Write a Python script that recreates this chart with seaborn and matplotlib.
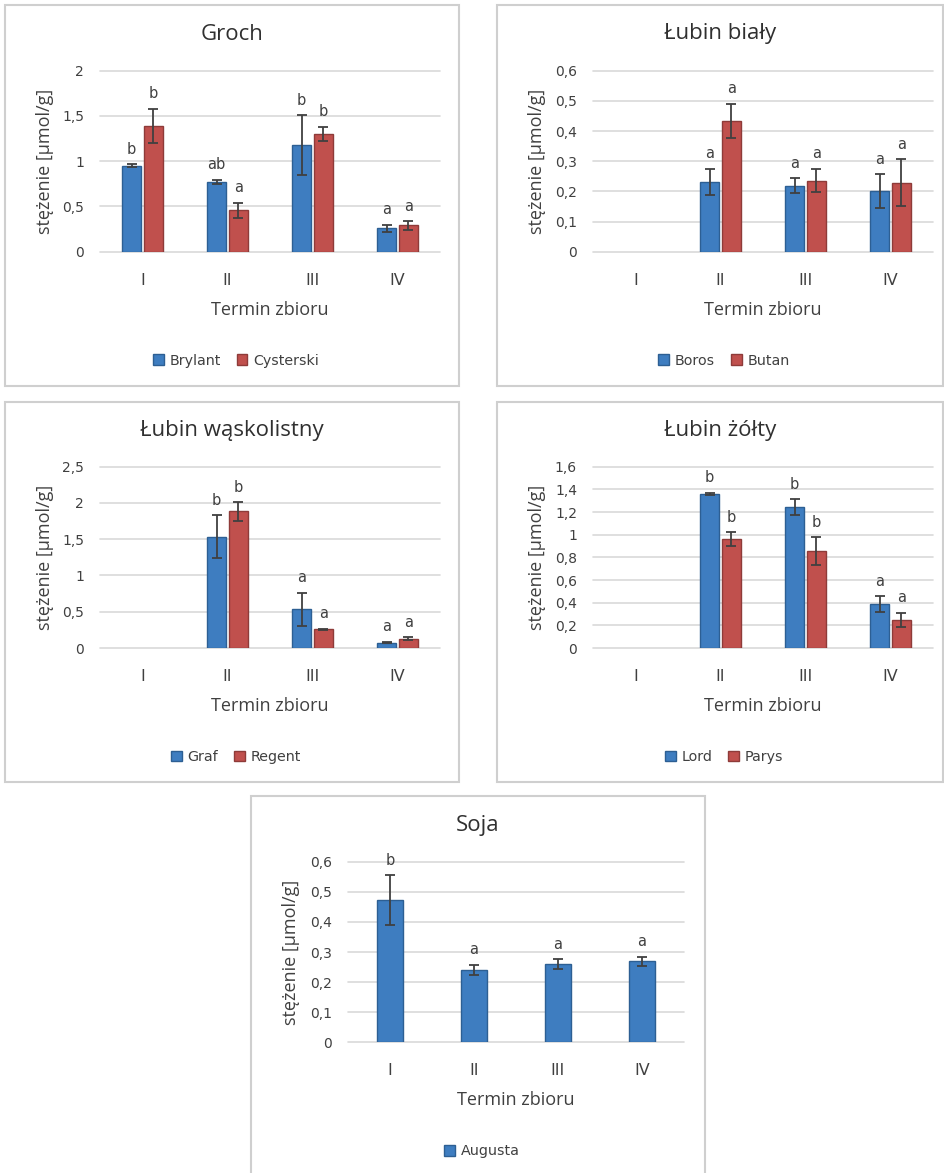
import matplotlib
matplotlib.use("Agg")
import matplotlib.pyplot as plt
from matplotlib.patches import Rectangle
from matplotlib.container import BarContainer
from matplotlib.ticker import MultipleLocator, FuncFormatter
import numpy as np
import pandas as pd
import seaborn as sns

# ---- data -------------------------------------------------------------
terminy = ["I", "II", "III", "IV"]

groch_odmiany = ["Brylant", "Cysterski"]
groch_brylant = [0.95, 0.77, 1.18, 0.26]
groch_brylant_sd = [0.015, 0.025, 0.33, 0.04]
groch_brylant_lit = ["b", "ab", "b", "a"]
groch_cysterski = [1.39, 0.46, 1.30, 0.29]
groch_cysterski_sd = [0.19, 0.083, 0.08, 0.048]
groch_cysterski_lit = ["b", "a", "b", "a"]

bialy_odmiany = ["Boros", "Butan"]
bialy_boros = [np.nan, 0.232, 0.219, 0.201]
bialy_boros_sd = [np.nan, 0.043, 0.025, 0.055]
bialy_boros_lit = ["", "a", "a", "a"]
bialy_butan = [np.nan, 0.434, 0.236, 0.229]
bialy_butan_sd = [np.nan, 0.056, 0.039, 0.078]
bialy_butan_lit = ["", "a", "a", "a"]

waskolistny_odmiany = ["Graf", "Regent"]
waskolistny_graf = [np.nan, 1.535, 0.533, 0.074]
waskolistny_graf_sd = [np.nan, 0.30, 0.23, 0.010]
waskolistny_graf_lit = ["", "b", "a", "a"]
waskolistny_regent = [np.nan, 1.884, 0.257, 0.129]
waskolistny_regent_sd = [np.nan, 0.13, 0.010, 0.018]
waskolistny_regent_lit = ["", "b", "a", "a"]

zolty_odmiany = ["Lord", "Parys"]
zolty_lord = [np.nan, 1.359, 1.241, 0.388]
zolty_lord_sd = [np.nan, 0.013, 0.070, 0.070]
zolty_lord_lit = ["", "b", "b", "a"]
zolty_parys = [np.nan, 0.962, 0.856, 0.247]
zolty_parys_sd = [np.nan, 0.060, 0.124, 0.063]
zolty_parys_lit = ["", "b", "b", "a"]

soja_odmiany = ["Augusta"]
soja_augusta = [0.473, 0.240, 0.260, 0.269]
soja_augusta_sd = [0.083, 0.018, 0.017, 0.016]
soja_augusta_lit = ["b", "a", "a", "a"]

# ---- style ------------------------------------------------------------
sns.set_style("white")
plt.rcParams["font.family"] = ["DejaVu Sans"]

TXT = "#404040"
GRID = "#d9d9d9"
FILL = {0: "#3e7dc0", 1: "#c0504d"}
EDGE = {0: "#2d5f93", 1: "#8e3b39"}
LABEL_FONT = ["Open Sans", "DejaVu Sans"]

W, H = 944, 1173
fig = plt.figure(figsize=(W / 100, H / 100), dpi=100)


def fx(x):
    return x / W


def fy(y):
    return 1 - y / H


def comma(v, _pos):
    return f"{v:g}".replace(".", ",")


def panel(box, axbox, title, names, values, sds, letters, ymax, ystep,
          width, gap):
    bx0, by0, bx1, by1 = box
    fig.add_artist(Rectangle((fx(bx0), fy(by1)), (bx1 - bx0) / W,
                             (by1 - by0) / H, transform=fig.transFigure,
                             fill=False, edgecolor="#cfcfcf", lw=1.5))
    l, t, r, b = axbox
    ax = fig.add_axes([fx(l), fy(b), (r - l) / W, (b - t) / H])

    rows = []
    for name, vals in zip(names, values):
        for term, v in zip(terminy, vals):
            if not np.isnan(v):
                rows.append({"termin": term, "odmiana": name, "wartosc": v})
    df = pd.DataFrame(rows)

    sns.barplot(data=df, x="termin", y="wartosc", hue="odmiana",
                order=terminy, hue_order=names,
                palette=[FILL[i] for i in range(len(names))],
                errorbar=None, width=width, gap=gap,
                dodge=len(names) > 1, legend=False, saturation=1,
                linewidth=1, ax=ax)

    bars = [c for c in ax.containers if isinstance(c, BarContainer)]
    for hi, cont in enumerate(bars):
        for p in cont.patches:
            p.set_edgecolor(EDGE[hi])
            xc = p.get_x() + p.get_width() / 2
            ci = int(round(xc))
            h = p.get_height()
            sd = sds[hi][ci]
            ax.errorbar(xc, h, yerr=sd, fmt="none", ecolor="#404040",
                        elinewidth=1.3, capsize=3.4, capthick=1.3, zorder=5)
            ax.annotate(letters[hi][ci], (xc, h + sd), xytext=(0, 7.5),
                        textcoords="offset points", ha="center",
                        va="baseline", fontsize=10.5, color=TXT)

    ax.set_xlim(-0.5, 3.5)
    ax.set_ylim(0, ymax)
    ax.yaxis.set_major_locator(MultipleLocator(ystep))
    ax.yaxis.set_major_formatter(FuncFormatter(comma))
    for v in np.arange(0, ymax + ystep / 2, ystep):
        ax.axhline(v, color=GRID, lw=1.2, zorder=0, clip_on=False)
    for s in ax.spines.values():
        s.set_visible(False)
    ax.tick_params(axis="x", length=0, pad=15, labelsize=11.5,
                   labelcolor=TXT)
    ax.tick_params(axis="y", length=0, pad=11.5, labelsize=10,
                   labelcolor=TXT)
    ax.set_xlabel("")
    ax.set_ylabel("")

    cx = (bx0 + bx1) / 2
    fig.text(fx(cx), fy(by0 + 29), title, ha="center", va="center",
             fontsize=16, color="#303030", family=LABEL_FONT)
    fig.text(fx((l + r) / 2), fy(b + 58), "Termin zbioru", ha="center",
             va="center", fontsize=13, color=TXT, family=LABEL_FONT)
    fig.text(fx(bx0 + 40), fy((t + b) / 2), "stężenie [µmol/g]",
             ha="center", va="center", rotation=90, fontsize=13,
             color=TXT, family=LABEL_FONT)

    handles = [Rectangle((0, 0), 1, 1, facecolor=FILL[i],
                         edgecolor=EDGE[i], lw=1)
               for i in range(len(names))]
    fig.legend(handles, names, loc="center",
               bbox_to_anchor=(fx(cx + 4), fy(b + 109)), ncol=len(names),
               frameon=False, handlelength=0.75, handleheight=0.75,
               handletextpad=0.4, columnspacing=1.1, fontsize=10.3,
               labelcolor=TXT)
    return ax


panel((5, 5, 459, 386), (100, 70.7, 440, 251.7), "Groch", groch_odmiany,
      [groch_brylant, groch_cysterski], [groch_brylant_sd, groch_cysterski_sd],
      [groch_brylant_lit, groch_cysterski_lit], 2, 0.5, 0.51, 0.14)

panel((497, 5, 943, 386), (593, 70.7, 933, 251.7), "Łubin biały",
      bialy_odmiany, [bialy_boros, bialy_butan],
      [bialy_boros_sd, bialy_butan_sd], [bialy_boros_lit, bialy_butan_lit],
      0.6, 0.1, 0.51, 0.14)

panel((5, 402, 459, 782), (100, 466.7, 440, 648), "Łubin wąskolistny",
      waskolistny_odmiany, [waskolistny_graf, waskolistny_regent],
      [waskolistny_graf_sd, waskolistny_regent_sd],
      [waskolistny_graf_lit, waskolistny_regent_lit], 2.5, 0.5, 0.51, 0.14)

panel((497, 402, 943, 782), (593, 466.7, 933, 648), "Łubin żółty",
      zolty_odmiany, [zolty_lord, zolty_parys],
      [zolty_lord_sd, zolty_parys_sd], [zolty_lord_lit, zolty_parys_lit],
      1.6, 0.2, 0.51, 0.14)

panel((251, 796, 705, 1175), (348, 861.7, 684, 1042.3), "Soja",
      soja_odmiany, [soja_augusta], [soja_augusta_sd], [soja_augusta_lit],
      0.6, 0.1, 0.30, 0.0)

fig.savefig("out.png", dpi=100, facecolor="white")
